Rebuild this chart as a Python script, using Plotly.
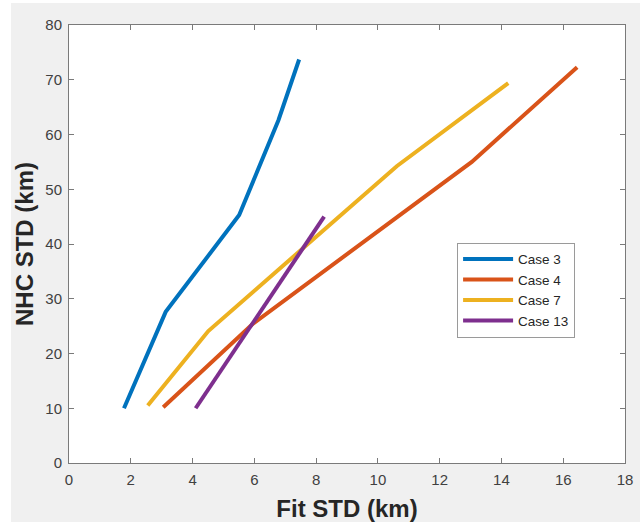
import plotly.graph_objects as go

case3_x = [1.78, 3.13, 5.51, 6.78, 7.45]
case3_y = [10.0, 27.6, 45.3, 62.6, 73.7]
case4_x = [3.05, 5.97, 13.04, 16.45]
case4_y = [10.2, 25.5, 55.0, 72.3]
case7_x = [2.55, 4.51, 10.61, 14.22]
case7_y = [10.5, 24.1, 54.2, 69.4]
case13_x = [4.10, 8.26]
case13_y = [10.0, 45.0]

names = ["Case 3", "Case 4", "Case 7", "Case 13"]
colors = ["#0072BD", "#D95319", "#EDB120", "#7E2F8E"]
xs = [case3_x, case4_x, case7_x, case13_x]
ys = [case3_y, case4_y, case7_y, case13_y]

fig = go.Figure()
for n, c, x, y in zip(names, colors, xs, ys):
    fig.add_trace(go.Scatter(x=x, y=y, mode="lines", name=n,
                             line=dict(color=c, width=4)))

axis_common = dict(
    showgrid=False, zeroline=False, showline=True, linecolor="#7a7a7a",
    linewidth=1, mirror="ticks", ticks="inside", ticklen=5, tickcolor="#7a7a7a",
    automargin=False,
    tickfont=dict(family="Liberation Sans, Arial", size=15, color="#404040"),
)

title_font = dict(family="Liberation Sans, Arial", size=24, color="#262626")

fig.update_layout(
    width=629, height=519,
    paper_bgcolor="#F0F0F0", plot_bgcolor="white",
    margin=dict(l=58, r=15, t=22, b=59),
    xaxis=dict(range=[0, 18], dtick=2, ticklabelstandoff=3, **axis_common,
               title=dict(text="<b>Fit STD (km)</b>", standoff=13, font=title_font)),
    yaxis=dict(range=[0, 80], dtick=10, ticklabelstandoff=3, **axis_common,
               title=dict(text="<b>NHC STD (km)</b>", standoff=4, font=title_font)),
    legend=dict(x=0.698, y=0.503, xanchor="left", yanchor="top",
                bgcolor="white", bordercolor="#9a9a9a", borderwidth=1,
                font=dict(family="Liberation Sans, Arial", size=13.5, color="#262626"),
                tracegroupgap=0, itemwidth=50),
    showlegend=True,
)

fig.write_html("out.html",
               post_script="document.body.style.margin='3px 0 0 11px';document.body.style.overflow='hidden';")
